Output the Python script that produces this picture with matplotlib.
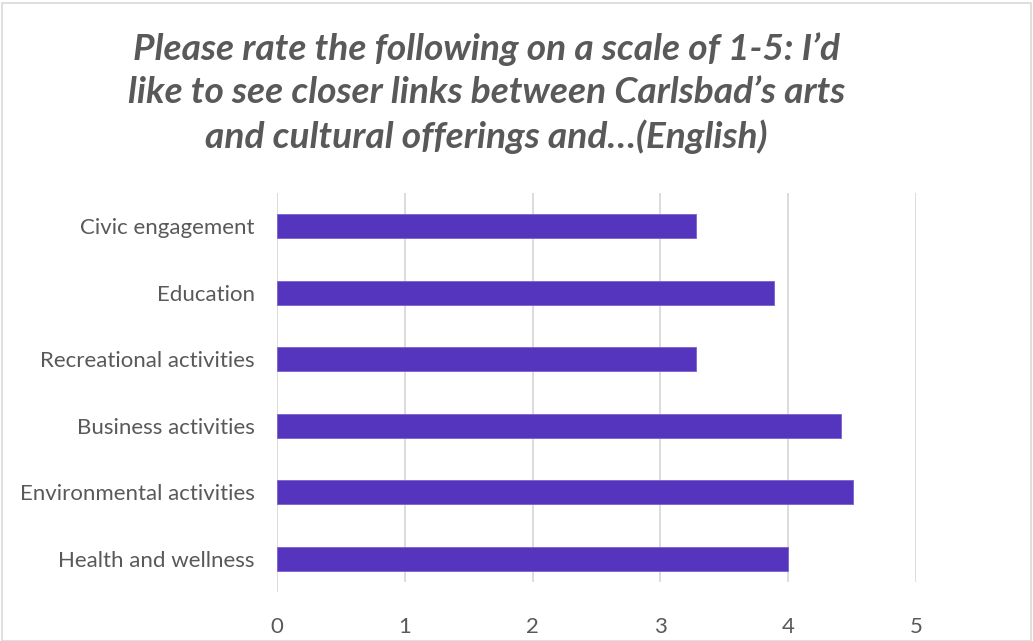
import matplotlib.pyplot as plt
from matplotlib.patches import Rectangle

categories = [
    "Health and wellness",
    "Environmental activities",
    "Business activities",
    "Recreational activities",
    "Education",
    "Civic engagement",
]
ratings = [4.0, 4.51, 4.41, 3.28, 3.89, 3.28]
x_ticks = [0, 1, 2, 3, 4, 5]

title = ("Please rate the following on a scale of 1-5: I\u2019d\n"
         "like to see closer links between Carlsbad\u2019s arts\n"
         "and cultural offerings and\u2026(English)")

BAR = "#5534be"
GRID = "#d9d9d9"
TEXT = "#595959"

plt.rcParams["font.family"] = ["Lato", "DejaVu Sans"]

W, H = 1033, 641
fig = plt.figure(figsize=(W / 100, H / 100), dpi=100)

# chart border
fig.patches.append(Rectangle((2 / W, 0), (W - 4) / W, (H - 3) / H,
                             transform=fig.transFigure, fill=False,
                             edgecolor=GRID, linewidth=1.2))

left, right = 277, 916
top, bottom = 193, 592
ax = fig.add_axes([left / W, 1 - bottom / H, (right - left) / W, (bottom - top) / H])

y = list(range(len(categories)))
ax.barh(y, ratings, height=0.36, color=BAR, edgecolor="#7a62cf", linewidth=0.6, zorder=3)

ax.set_xlim(0, 5)
ax.set_ylim(-0.5, len(categories) - 0.5)
ax.set_xticks(x_ticks)
ax.set_xticklabels([str(t) for t in x_ticks])
ax.set_yticks(y)
ax.set_yticklabels(categories)
ax.tick_params(axis="both", length=0, colors=TEXT, labelsize=16)
ax.tick_params(axis="x", pad=18)
ax.tick_params(axis="y", pad=16)

# gridlines stop a little short of the bottom, the zero line runs the full height
for t in x_ticks:
    ax.axvline(t, ymin=0 if t == 0 else 0.028, ymax=1, color=GRID, linewidth=1.3, zorder=0)
for side in ["top", "right", "bottom", "left"]:
    ax.spines[side].set_visible(False)

fig.text(0.471, 1 - 93 / H, title, ha="center", va="center", color=TEXT,
         fontsize=26.7, fontweight="bold", fontstyle="italic", linespacing=1.38)

fig.savefig("out.png", dpi=100, facecolor="white")
plt.close(fig)
